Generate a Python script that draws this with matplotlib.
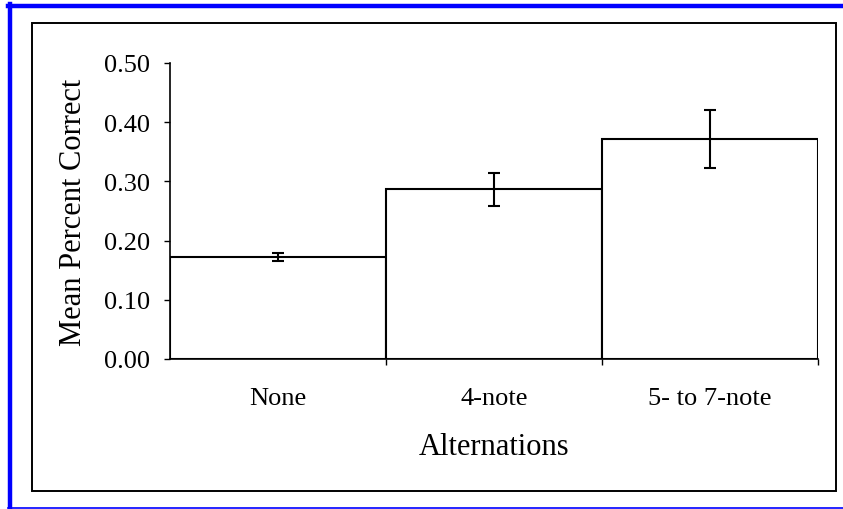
import numpy as np
import matplotlib.pyplot as plt
from matplotlib.lines import Line2D
from matplotlib.patches import Rectangle

# Data
categories = ['None', '4-note', '5- to 7-note']
means = [0.172, 0.287, 0.372]
err_low = [0.165, 0.259, 0.323]
err_high = [0.179, 0.315, 0.421]

plt.rcParams['font.family'] = ['Liberation Serif', 'DejaVu Serif']

fig = plt.figure(figsize=(8.43, 5.10), dpi=100)
W, H = 843, 510

# outer blue frame and inner black frame (pixel coords -> figure coords)
def fx(x):
    return x / W

def fy(y):
    return 1 - y / H

fig.add_artist(Line2D([fx(10), fx(10)], [fy(5), fy(509)], color='#0000ff', lw=3.2))
fig.add_artist(Line2D([fx(8), fx(843)], [fy(7), fy(7)], color='#0000ff', lw=3.2))
fig.add_artist(Line2D([fx(8), fx(843)], [fy(508.5), fy(508.5)], color='#0000ff', lw=1.2))
fig.add_artist(Rectangle((fx(32), fy(492)), fx(836) - fx(32), fy(24) - fy(492),
                         fill=False, edgecolor='black', lw=1.4, transform=fig.transFigure))

ax = fig.add_axes([fx(170), fy(360), fx(818) - fx(170), fy(64) - fy(360)])

x = np.arange(len(categories))
means_arr = np.array(means)
yerr = [means_arr - np.array(err_low), np.array(err_high) - means_arr]
ax.bar(x, means, width=1.0, color='white', edgecolor='black', linewidth=1.5, zorder=2)
ax.errorbar(x, means, yerr=yerr, fmt='none', ecolor='black', elinewidth=1.5,
            capsize=4.5, capthick=1.5, zorder=3)

ax.set_xlim(-0.5, 2.5)
ax.set_ylim(0, 0.5)
ax.set_yticks(np.arange(0, 0.51, 0.1))
ax.set_yticklabels(['%.2f' % v for v in np.arange(0, 0.51, 0.1)])
ax.set_xticks(x)
ax.set_xticklabels(categories)
ax.set_xticks([0.5, 1.5, 2.5], minor=True)
ax.tick_params(axis='x', which='major', length=0, pad=20, labelsize=19)
ax.tick_params(axis='x', which='minor', length=4.5, width=1, direction='out')
ax.tick_params(axis='y', length=4.5, width=1, direction='out', pad=10, labelsize=19)

for side in ['top', 'right']:
    ax.spines[side].set_visible(False)
ax.spines['left'].set_linewidth(1.2)
ax.spines['bottom'].set_linewidth(1.2)

ax.set_ylabel('Mean Percent Correct', fontsize=22, labelpad=11)
ax.set_xlabel('Alternations', fontsize=22, labelpad=17)

fig.savefig('out.png', dpi=100)
